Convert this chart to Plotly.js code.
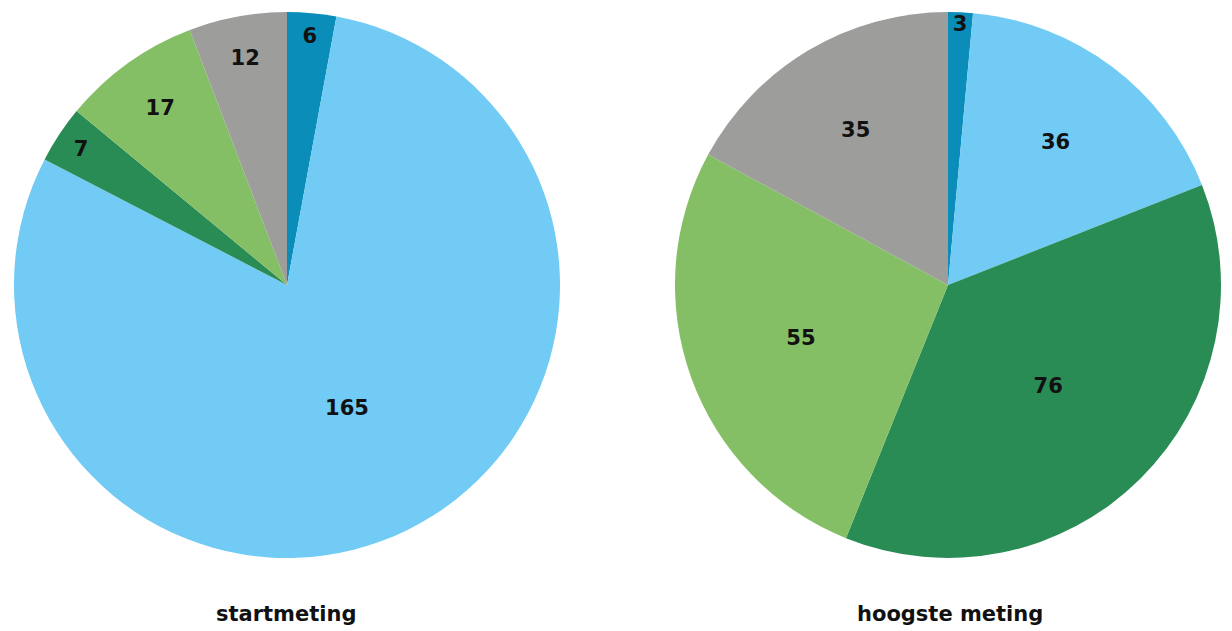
<!DOCTYPE html>
<html>
<head>
<meta charset="utf-8">
<script src="https://cdn.plot.ly/plotly-3.0.1.min.js"></script>
<style>html,body{margin:0;padding:0;background:#fff;}#chart{width:1232px;height:631px;}</style>
</head>
<body>
<div id="chart"></div>
<script>
var categories = ["cat1", "cat2", "cat3", "cat4", "cat5"];
var startValues = [6, 165, 7, 17, 12];
var hoogsteValues = [3, 36, 76, 55, 35];
var pieTitles = ["startmeting", "hoogste meting"];
var colors = ["#0A8DB8", "#71CBF4", "#2A8C55", "#85BF65", "#9D9D9B"];

var W = 1232, H = 631;
function dom(x0, x1, y0, y1) {
  return {x: [x0 / W, x1 / W], y: [1 - y1 / H, 1 - y0 / H]};
}
var FONT = "DejaVu Sans";
var common = {
  type: "pie",
  labels: categories,
  sort: false,
  direction: "clockwise",
  rotation: 0,
  textinfo: "value",
  textposition: "inside",
  insidetextorientation: "horizontal",
  marker: {colors: colors, line: {width: 0}},
  textfont: {family: FONT, size: 21, color: "#111", weight: "bold"},
  hoverinfo: "label+value",
  showlegend: false
};
var t1 = Object.assign({}, common, {values: startValues, domain: dom(14, 560, 12, 558)});
var t2 = Object.assign({}, common, {values: hoogsteValues, domain: dom(675, 1221, 12, 558)});

var layout = {
  width: W, height: H,
  margin: {l: 0, r: 0, t: 0, b: 0},
  paper_bgcolor: "#fff",
  showlegend: false,
  uniformtext: {mode: "show", minsize: 21},
  annotations: [
    {text: pieTitles[0], x: 286 / W, y: 1 - 614 / H, xref: "paper", yref: "paper", showarrow: false,
     xanchor: "center", yanchor: "middle",
     font: {family: FONT, size: 21, color: "#111", weight: "bold"}},
    {text: pieTitles[1], x: 950 / W, y: 1 - 614 / H, xref: "paper", yref: "paper", showarrow: false,
     xanchor: "center", yanchor: "middle",
     font: {family: FONT, size: 21, color: "#111", weight: "bold"}}
  ]
};
Plotly.newPlot("chart", [t1, t2], layout, {displayModeBar: false});
</script>
</body>
</html>
